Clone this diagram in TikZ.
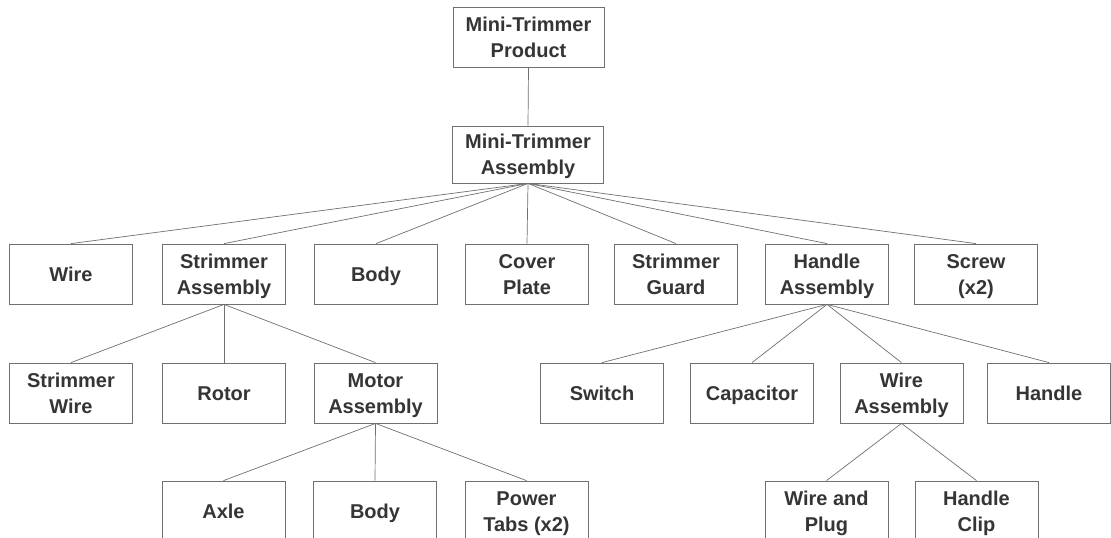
\documentclass[tikz,border=0pt]{standalone}
\usepackage{fontspec}
\setmainfont{Liberation Sans}
\usepackage{tikz}
\usepackage{xcolor}
\definecolor{ink}{HTML}{353535}
\definecolor{rule}{HTML}{707070}

\begin{document}
\begin{tikzpicture}[x=1pt,y=-1pt,
  part/.style={draw=rule,line width=0.8pt,minimum width=123pt,minimum height=60pt,
               inner sep=0pt,align=center,text=ink,text height=14pt,text depth=0pt,
               font=\fontsize{20}{26}\selectfont\bfseries},
  part2/.style={part,text height=40pt},
  top part/.style={part2,minimum width=151pt},
  link/.style={draw=rule,line width=0.7pt}]
  \fill[white] (0,0) rectangle (1111,538);
  \useasboundingbox (0,0) rectangle (1111,538);
  \clip (0,0) rectangle (1111,538);

  % product and main assembly
  \node[top part] (prod) at (528.5,37)  {Mini-Trimmer\\Product};
  \node[top part,minimum height=57pt] (asm) at (528,154.5) {Mini-Trimmer\\Assembly};

  % first level
  \node[part]  (wire)    at (71,274)  {Wire};
  \node[part2] (strasm)  at (224,274) {Strimmer\\Assembly};
  \node[part]  (body)    at (376,274) {Body};
  \node[part2] (cover)   at (527,274) {Cover\\Plate};
  \node[part2] (guard)   at (676,274) {Strimmer\\Guard};
  \node[part2] (handasm) at (827,274) {Handle\\Assembly};
  \node[part2] (screw)   at (976,274) {Screw\\(x2)};

  % second level
  \node[part2] (strwire) at (71,393)    {Strimmer\\Wire};
  \node[part]  (rotor)   at (224,393)   {Rotor};
  \node[part2] (motasm)  at (375.5,393) {Motor\\Assembly};
  \node[part]  (switch)  at (602,393)   {Switch};
  \node[part]  (cap)     at (752,393)   {Capacitor};
  \node[part2] (wireasm) at (901.5,393) {Wire\\Assembly};
  \node[part]  (handle)  at (1049,393)  {Handle};

  % third level
  \node[part]  (axle)    at (223.5,511) {Axle};
  \node[part]  (mbody)   at (375,511)   {Body};
  \node[part2] (tabs)    at (526.5,511) {Power\\Tabs (x2)};
  \node[part2] (plug)    at (826.5,511) {Wire and\\Plug};
  \node[part2] (clip)    at (976.5,511) {Handle\\Clip};

  % connectors
  \draw[link] (prod.south) -- (asm.north);
  \foreach \c in {wire,strasm,body,cover,guard,handasm,screw}
    \draw[link] (asm.south) -- (\c.north);
  \foreach \c in {strwire,rotor,motasm}
    \draw[link] (strasm.south) -- (\c.north);
  \foreach \c in {switch,cap,wireasm,handle}
    \draw[link] (handasm.south) -- (\c.north);
  \foreach \c in {axle,mbody,tabs}
    \draw[link] (motasm.south) -- (\c.north);
  \foreach \c in {plug,clip}
    \draw[link] (wireasm.south) -- (\c.north);
\end{tikzpicture}
\end{document}
